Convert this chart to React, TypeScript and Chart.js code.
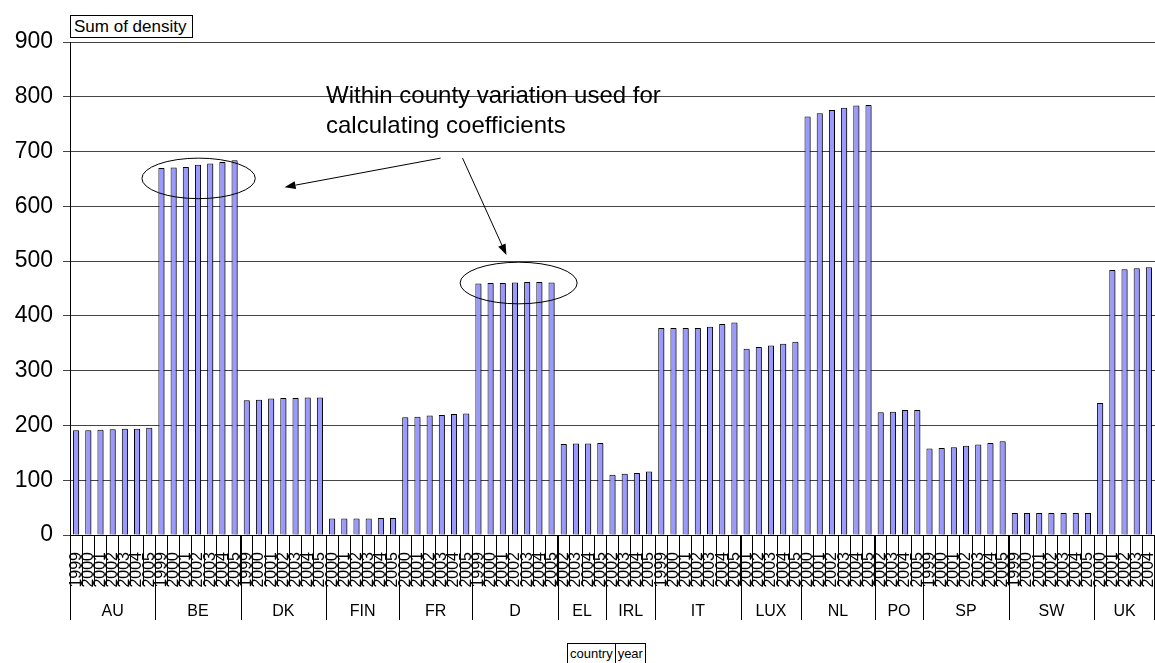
import React, { useEffect, useRef } from "react";
import { Chart, registerables } from "chart.js";

Chart.register(...registerables);

const FONT = "'Liberation Sans', Arial, sans-serif";

const countries = ["AU", "BE", "DK", "FIN", "FR", "D", "EL", "IRL", "IT", "LUX", "NL", "PO", "SP", "SW", "UK"];

const yearsAU = ["1999", "2000", "2001", "2002", "2003", "2004", "2005"];
const yearsBE = ["1999", "2000", "2001", "2002", "2003", "2004", "2005"];
const yearsDK = ["1999", "2000", "2001", "2002", "2003", "2004", "2005"];
const yearsFIN = ["2000", "2001", "2002", "2003", "2004", "2005"];
const yearsFR = ["2000", "2001", "2002", "2003", "2004", "2005"];
const yearsD = ["1999", "2000", "2001", "2002", "2003", "2004", "2005"];
const yearsEL = ["2002", "2003", "2004", "2005"];
const yearsIRL = ["2002", "2003", "2004", "2005"];
const yearsIT = ["1999", "2000", "2001", "2002", "2003", "2004", "2005"];
const yearsLUX = ["2001", "2002", "2003", "2004", "2005"];
const yearsNL = ["2000", "2001", "2002", "2003", "2004", "2005"];
const yearsPO = ["2002", "2003", "2004", "2005"];
const yearsSP = ["1999", "2000", "2001", "2002", "2003", "2004", "2005"];
const yearsSW = ["1999", "2000", "2001", "2002", "2003", "2004", "2005"];
const yearsUK = ["2000", "2001", "2002", "2003", "2004"];

const densAU = [191, 191, 192, 193, 194, 194, 196];
const densBE = [670, 671, 672, 676, 678, 681, 684];
const densDK = [246, 247, 249, 250, 250, 251, 251];
const densFIN = [30, 30, 30, 30, 31, 31];
const densFR = [215, 216, 218, 219, 221, 222];
const densD = [459, 460, 460, 461, 462, 462, 461];
const densEL = [166, 167, 167, 168];
const densIRL = [110, 112, 113, 116];
const densIT = [378, 378, 378, 378, 380, 385, 388];
const densLUX = [340, 343, 346, 349, 353];
const densNL = [764, 770, 776, 780, 784, 785];
const densPO = [224, 225, 228, 228];
const densSP = [158, 159, 160, 163, 165, 168, 171];
const densSW = [40, 40, 40, 40, 40, 40, 40];
const densUK = [241, 484, 485, 487, 489];

const yearGroups = [yearsAU, yearsBE, yearsDK, yearsFIN, yearsFR, yearsD, yearsEL, yearsIRL, yearsIT, yearsLUX, yearsNL, yearsPO, yearsSP, yearsSW, yearsUK];
const densGroups = [densAU, densBE, densDK, densFIN, densFR, densD, densEL, densIRL, densIT, densLUX, densNL, densPO, densSP, densSW, densUK];

const yTicks = [0, 100, 200, 300, 400, 500, 600, 700, 800, 900];

const annotationLines = ["Within county variation used for", "calculating coefficients"];

export default function App() {
  const canvasRef = useRef<HTMLCanvasElement | null>(null);

  useEffect(() => {
    const canvas = canvasRef.current;
    if (!canvas) return;

    const labels: string[] = [];
    const data: number[] = [];
    const groupRanges: { name: string; start: number; end: number }[] = [];
    yearGroups.forEach((ys, gi) => {
      const start = labels.length;
      ys.forEach((y, i) => {
        labels.push(y);
        data.push(densGroups[gi][i]);
      });
      groupRanges.push({ name: countries[gi], start, end: labels.length - 1 });
    });

    const shadowPlugin = {
      id: "barShadow",
      beforeDatasetsDraw(chart: any) {
        const ctx = chart.ctx;
        ctx.save();
        ctx.shadowColor = "rgba(0,0,0,0.4)";
        ctx.shadowOffsetX = 2;
        ctx.shadowOffsetY = 1;
        ctx.shadowBlur = 0;
      },
      afterDatasetsDraw(chart: any) {
        chart.ctx.restore();
      },
    };

    const countryAxisPlugin = {
      id: "countryAxis",
      afterDraw(chart: any) {
        const ctx = chart.ctx;
        const xs = chart.scales.x;
        const bottom = chart.chartArea.bottom;
        ctx.save();
        ctx.strokeStyle = "#000";
        ctx.lineWidth = 1;
        ctx.fillStyle = "#000";
        ctx.font = `16px ${FONT}`;
        ctx.textAlign = "center";
        ctx.textBaseline = "middle";
        groupRanges.forEach((g, i) => {
          const l = xs.getPixelForValue(g.start - 0.5);
          const r = xs.getPixelForValue(g.end + 0.5);
          const drawLine = (x: number) => {
            const px = Math.round(x) + 0.5;
            ctx.beginPath();
            ctx.moveTo(px, bottom);
            ctx.lineTo(px, bottom + 85);
            ctx.stroke();
          };
          drawLine(l);
          if (i === groupRanges.length - 1) drawLine(Math.min(r, chart.width - 1));
          ctx.fillText(g.name, (l + r) / 2, bottom + 77);
        });
        ctx.restore();
      },
    };

    const annotationPlugin = {
      id: "annotations",
      afterDraw(chart: any) {
        const ctx = chart.ctx;
        const xs = chart.scales.x;
        const ys = chart.scales.y;
        ctx.save();
        ctx.strokeStyle = "#000";
        ctx.fillStyle = "#000";
        ctx.lineWidth = 1;

        // text
        ctx.font = `24px ${FONT}`;
        ctx.textAlign = "left";
        ctx.textBaseline = "alphabetic";
        const tx = xs.getPixelForValue(20.5);
        ctx.fillText(annotationLines[0], tx, ys.getPixelForValue(788));
        ctx.fillText(annotationLines[1], tx, ys.getPixelForValue(733));

        // ellipses
        const ellipse = (ci: number, cv: number, rc: number, rv: number) => {
          const cx = xs.getPixelForValue(ci);
          const cy = ys.getPixelForValue(cv);
          const rx = Math.abs(xs.getPixelForValue(ci + rc) - cx);
          const ry = Math.abs(ys.getPixelForValue(cv + rv) - cy);
          ctx.beginPath();
          ctx.ellipse(cx, cy, rx, ry, 0, 0, Math.PI * 2);
          ctx.stroke();
        };
        ellipse(10.05, 651, 4.65, 37);
        ellipse(36.3, 460, 4.8, 38);

        // arrows
        const arrow = (i1: number, v1: number, i2: number, v2: number) => {
          const x1 = xs.getPixelForValue(i1);
          const y1 = ys.getPixelForValue(v1);
          const x2 = xs.getPixelForValue(i2);
          const y2 = ys.getPixelForValue(v2);
          const ang = Math.atan2(y2 - y1, x2 - x1);
          const len = 11;
          const w = 4;
          const bx = x2 - len * Math.cos(ang);
          const by = y2 - len * Math.sin(ang);
          ctx.beginPath();
          ctx.moveTo(x1, y1);
          ctx.lineTo(bx, by);
          ctx.stroke();
          ctx.beginPath();
          ctx.moveTo(x2, y2);
          ctx.lineTo(bx + w * Math.sin(ang), by - w * Math.cos(ang));
          ctx.lineTo(bx - w * Math.sin(ang), by + w * Math.cos(ang));
          ctx.closePath();
          ctx.fill();
        };
        arrow(29.9, 688, 17.1, 635);
        arrow(31.7, 688, 35.3, 511);
        ctx.restore();
      },
    };

    const chart = new Chart(canvas, {
      type: "bar",
      data: {
        labels,
        datasets: [
          {
            label: "Sum of density",
            data,
            backgroundColor: "#9999FF",
            borderColor: "#000000",
            borderWidth: 1,
            barPercentage: 0.5,
            categoryPercentage: 1,
          },
        ],
      },
      options: {
        responsive: false,
        animation: false,
        devicePixelRatio: 1,
        layout: { padding: { top: 42, left: 0, right: 0, bottom: 0 } },
        plugins: {
          legend: { display: false },
          tooltip: { enabled: false },
          title: { display: false },
        },
        scales: {
          x: {
            type: "category",
            grid: {
              offset: true,
              drawOnChartArea: false,
              drawTicks: true,
              tickLength: 50,
              color: "#000",
              tickColor: "#000",
            },
            border: { color: "#000" },
            ticks: {
              autoSkip: false,
              minRotation: 90,
              maxRotation: 90,
              padding: -33,
              color: "#000",
              font: { family: FONT, size: 16 },
            },
            afterFit: (s: any) => {
              s.height = 128;
            },
          },
          y: {
            min: 0,
            max: 900,
            afterBuildTicks: (s: any) => {
              s.ticks = yTicks.map((v) => ({ value: v }));
            },
            ticks: {
              color: "#000",
              padding: 10,
              font: { family: FONT, size: 23 },
            },
            grid: {
              color: "#444",
              tickColor: "#444",
              tickLength: 7,
              lineWidth: 1,
            },
            border: { color: "#000" },
            afterFit: (s: any) => {
              s.width = 70;
            },
          },
        },
      },
      plugins: [shadowPlugin, countryAxisPlugin, annotationPlugin],
    } as any);

    return () => chart.destroy();
  }, []);

  const boxStyle: React.CSSProperties = {
    position: "absolute",
    border: "1px solid #000",
    background: "#fff",
    fontFamily: FONT,
    color: "#000",
    boxSizing: "border-box",
    whiteSpace: "nowrap",
  };

  return (
    <div style={{ position: "absolute", left: 0, top: 0, width: 1155, height: 663, background: "#fff", overflow: "hidden" }}>
      <canvas ref={canvasRef} width={1155} height={663} style={{ position: "absolute", left: 0, top: 0, width: 1155, height: 663 }} />
      <div style={{ ...boxStyle, left: 70, top: 15, width: 123, height: 23, fontSize: 17, lineHeight: "21px", paddingLeft: 3 }}>
        Sum of density
      </div>
      <div style={{ ...boxStyle, left: 567, top: 643, height: 21, fontSize: 13, lineHeight: "19px", display: "flex" }}>
        <span style={{ padding: "0 2px", borderRight: "1px solid #000" }}>country</span>
        <span style={{ padding: "0 2px" }}>year</span>
      </div>
    </div>
  );
}
